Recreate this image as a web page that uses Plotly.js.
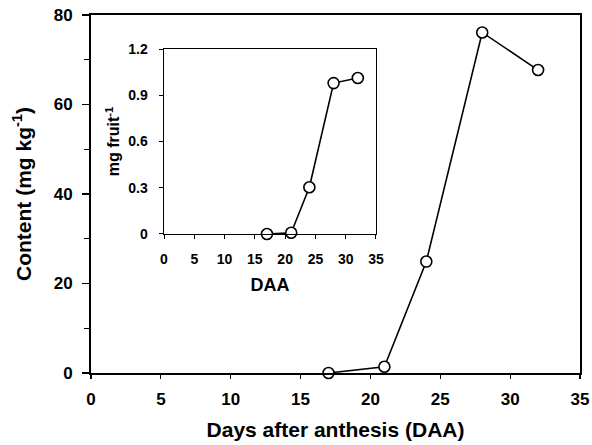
<!DOCTYPE html>
<html><head><meta charset="utf-8">
<script src="https://cdn.plot.ly/plotly-3.0.1.min.js"></script>
<style>body{margin:0;padding:0;background:#fff}#c{width:592px;height:445px}</style>
</head><body><div id="c"></div>
<script>
const daa = [17, 21, 24, 28, 32];
const contentMgKg = [0, 1.4, 24.9, 76.1, 67.7];
const inDaa = [17, 21, 24, 28, 32];
const mgFruit = [0, 0.008, 0.303, 0.979, 1.012];
const mainXTicks = [0, 5, 10, 15, 20, 25, 30, 35];
const mainYTicks = [0, 20, 40, 60, 80];
const insetYTicks = [0, 0.3, 0.6, 0.9, 1.2];
const insetYLabels = ['0', '0.3', '0.6', '0.9', '1.2'];

const F = 'Liberation Sans, Arial, sans-serif';
const marker = {symbol: 'circle', size: 11, color: '#fff', line: {color: '#000', width: 1.6}};
const traces = [
  {x: daa, y: contentMgKg, type: 'scatter', mode: 'lines+markers', xaxis: 'x', yaxis: 'y',
   line: {color: '#000', width: 1.6}, marker: marker, cliponaxis: false},
  {x: inDaa, y: mgFruit, type: 'scatter', mode: 'lines+markers', xaxis: 'x2', yaxis: 'y2',
   line: {color: '#000', width: 1.6}, marker: marker, cliponaxis: false}
];
const layout = {
  width: 592, height: 445,
  margin: {l: 91, r: 12, t: 15, b: 72},
  paper_bgcolor: '#fff', plot_bgcolor: '#fff',
  showlegend: false,
  font: {family: F, color: '#000'},
  xaxis: {
    range: [0, 35], tickvals: mainXTicks, ticks: 'outside', ticklen: 4, tickwidth: 1.2, tickcolor: '#000',
    showline: true, linecolor: '#000', linewidth: 2, mirror: true, showgrid: false, zeroline: false,
    tickfont: {family: F, size: 17, weight: 700}, ticklabelstandoff: 6,
    title: {text: 'Days after anthesis (DAA)', font: {family: F, size: 21, weight: 700}, standoff: 14}
  },
  yaxis: {
    range: [0, 80], tickvals: mainYTicks, ticks: 'outside', ticklen: 7, tickwidth: 1.2, tickcolor: '#000',
    minor: {dtick: 10, tick0: 0, ticks: 'outside', ticklen: 5, tickcolor: '#000', tickwidth: 1.2, showgrid: false},
    showline: true, linecolor: '#000', linewidth: 2, mirror: true, showgrid: false, zeroline: false,
    tickfont: {family: F, size: 17, weight: 700}, ticklabelstandoff: 6,
    title: {text: 'Content (mg kg<sup>-1</sup>)', font: {family: F, size: 21, weight: 700}, standoff: 16}
  },
  xaxis2: {
    domain: [0.1493, 0.5828], anchor: 'y2',
    range: [0, 35], tickvals: mainXTicks, ticks: 'outside', ticklen: 4, tickwidth: 1, tickcolor: '#000',
    showline: true, linecolor: '#000', linewidth: 1.5, mirror: true, showgrid: false, zeroline: false,
    tickfont: {family: F, size: 14, weight: 700}, ticklabelstandoff: 8,
    title: {text: 'DAA', font: {family: F, size: 18, weight: 700}, standoff: 12}
  },
  yaxis2: {
    domain: [0.3883, 0.905], anchor: 'x2',
    range: [0, 1.2], tickvals: insetYTicks, ticktext: insetYLabels, ticks: 'outside', ticklen: 4, tickwidth: 1, tickcolor: '#000',
    showline: true, linecolor: '#000', linewidth: 1.5, mirror: true, showgrid: false, zeroline: false,
    tickfont: {family: F, size: 14, weight: 700}, ticklabelstandoff: 8,
    title: {text: 'mg fruit<sup>-1</sup>', font: {family: F, size: 16, weight: 700}, standoff: 4}
  }
};
Plotly.newPlot('c', traces, layout, {staticPlot: true, displayModeBar: false});
</script></body></html>
